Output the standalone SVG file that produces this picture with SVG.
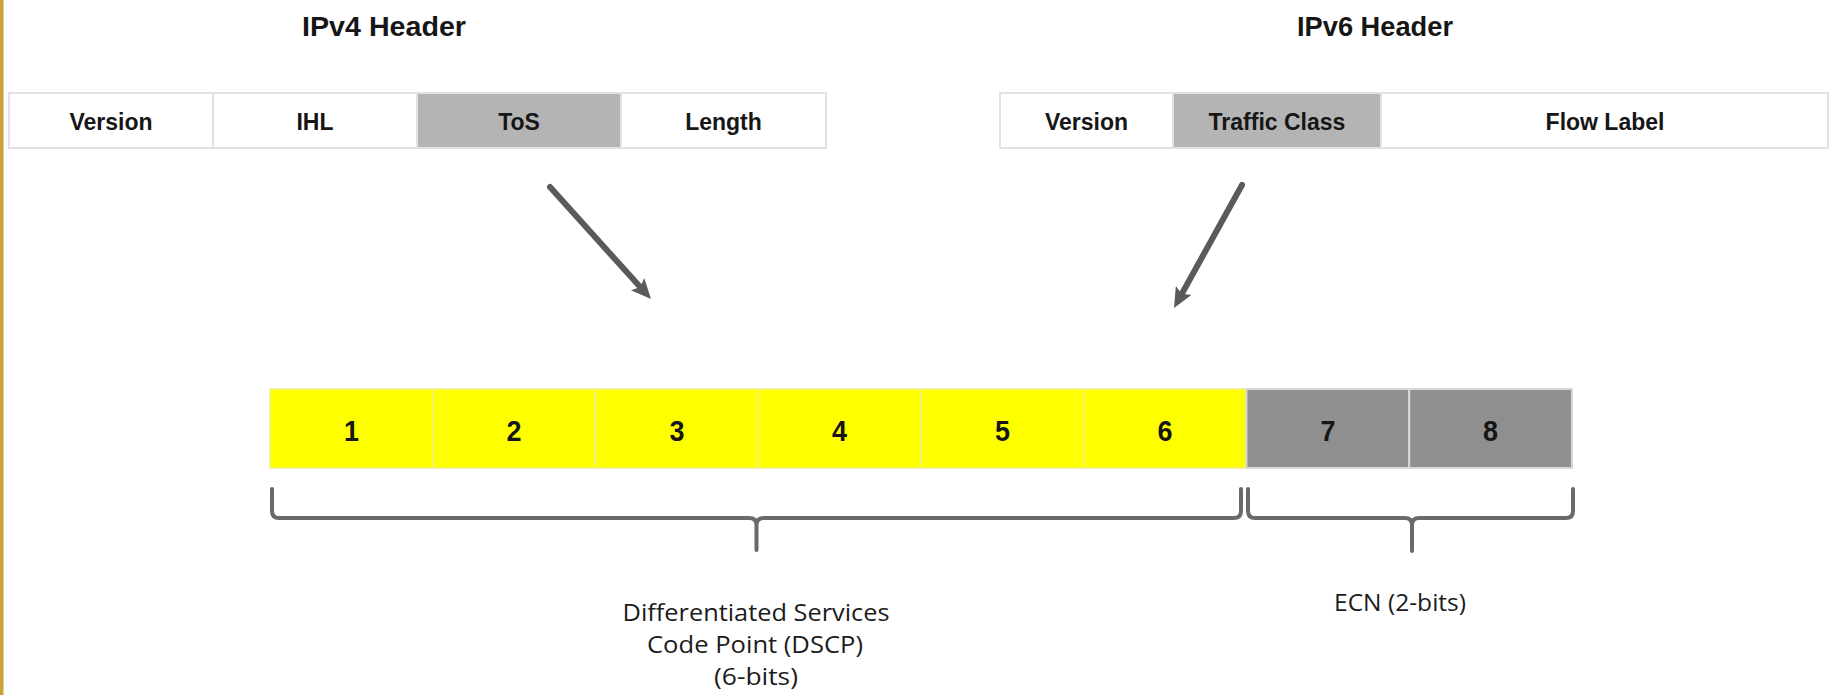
<svg xmlns="http://www.w3.org/2000/svg" width="1829" height="695" viewBox="0 0 1829 695">
  <style>
    .title { font-family: "Liberation Sans", Arial, sans-serif; font-weight: bold; font-size: 28px; fill: #161616; text-anchor: middle; }
    .field { font-family: "Liberation Sans", Arial, sans-serif; font-weight: bold; font-size: 23px; fill: #161616; text-anchor: middle; }
    .bit { font-family: "Liberation Sans", Arial, sans-serif; font-weight: bold; font-size: 30px; fill: #161616; text-anchor: middle; }
    .label { font-family: "Open Sans", "Liberation Sans", sans-serif; font-size: 24px; fill: #1c1c1c; text-anchor: middle; }
    .cell { fill: #ffffff; stroke: #e2e2e2; stroke-width: 2; }
    .cell-sel { fill: #b4b4b4; stroke: #e2e2e2; stroke-width: 2; }
    .dscp { fill: #ffff00; stroke: #f0f08a; stroke-width: 1.5; }
    .ecn { fill: #8f8f8f; stroke: #d8d8d8; stroke-width: 2; }
    .arrow { stroke: #5a5a5a; stroke-width: 6; stroke-linecap: round; fill: none; marker-end: url(#head); }
    .brace { stroke: #6a6a6a; stroke-width: 4; fill: none; stroke-linecap: round; stroke-linejoin: round; }
  </style>
  <defs>
    <marker id="head" markerUnits="userSpaceOnUse" viewBox="0 0 20 18" refX="6" refY="9" markerWidth="20" markerHeight="18" orient="auto">
      <path d="M0,0 L20,9 L0,18 L4,9 z" fill="#5a5a5a"/>
    </marker>
  </defs>

  <rect width="1829" height="695" fill="#ffffff"/>
  <!-- gold edge strip -->
  <rect x="0" y="0" width="3.5" height="695" fill="#c9a23c"/>

  <!-- IPv4 header -->
  <g id="ipv4-header">
    <text class="title" x="384" y="36" textLength="164" lengthAdjust="spacingAndGlyphs">IPv4 Header</text>
    <g id="ipv4-version">
      <rect class="cell" x="9" y="93" width="204" height="55"/>
      <text class="field" x="111" y="130">Version</text>
    </g>
    <g id="ipv4-ihl">
      <rect class="cell" x="213" y="93" width="204" height="55"/>
      <text class="field" x="315" y="130">IHL</text>
    </g>
    <g id="ipv4-tos">
      <rect class="cell-sel" x="417" y="93" width="204" height="55"/>
      <text class="field" x="519" y="130">ToS</text>
    </g>
    <g id="ipv4-length">
      <rect class="cell" x="621" y="93" width="205" height="55"/>
      <text class="field" x="723.5" y="130">Length</text>
    </g>
  </g>

  <!-- IPv6 header -->
  <g id="ipv6-header">
    <text class="title" x="1375" y="36" textLength="156" lengthAdjust="spacingAndGlyphs">IPv6 Header</text>
    <g id="ipv6-version">
      <rect class="cell" x="1000" y="93" width="173" height="55"/>
      <text class="field" x="1086.5" y="130">Version</text>
    </g>
    <g id="ipv6-traffic-class">
      <rect class="cell-sel" x="1173" y="93" width="208" height="55"/>
      <text class="field" x="1277" y="130">Traffic Class</text>
    </g>
    <g id="ipv6-flow-label">
      <rect class="cell" x="1381" y="93" width="447" height="55"/>
      <text class="field" x="1605" y="130">Flow Label</text>
    </g>
  </g>

  <!-- 8-bit DS field -->
  <g id="ds-field">
    <g id="bit-1"><rect class="dscp" x="270" y="389" width="162.75" height="79"/><text class="bit" x="351.4" y="441" textLength="15" lengthAdjust="spacingAndGlyphs">1</text></g>
    <g id="bit-2"><rect class="dscp" x="432.75" y="389" width="162.75" height="79"/><text class="bit" x="514.1" y="441" textLength="15" lengthAdjust="spacingAndGlyphs">2</text></g>
    <g id="bit-3"><rect class="dscp" x="595.5" y="389" width="162.75" height="79"/><text class="bit" x="676.9" y="441" textLength="15" lengthAdjust="spacingAndGlyphs">3</text></g>
    <g id="bit-4"><rect class="dscp" x="758.25" y="389" width="162.75" height="79"/><text class="bit" x="839.6" y="441" textLength="15" lengthAdjust="spacingAndGlyphs">4</text></g>
    <g id="bit-5"><rect class="dscp" x="921" y="389" width="162.75" height="79"/><text class="bit" x="1002.4" y="441" textLength="15" lengthAdjust="spacingAndGlyphs">5</text></g>
    <g id="bit-6"><rect class="dscp" x="1083.75" y="389" width="162.75" height="79"/><text class="bit" x="1165.1" y="441" textLength="15" lengthAdjust="spacingAndGlyphs">6</text></g>
    <g id="bit-7"><rect class="ecn" x="1246.5" y="389" width="162.75" height="79"/><text class="bit" x="1327.9" y="441" textLength="15" lengthAdjust="spacingAndGlyphs">7</text></g>
    <g id="bit-8"><rect class="ecn" x="1409.25" y="389" width="162.75" height="79"/><text class="bit" x="1490.6" y="441" textLength="15" lengthAdjust="spacingAndGlyphs">8</text></g>
  </g>

  <!-- labels under the braces -->
  <g id="dscp-label">
    <text class="label" x="756" y="621" textLength="267" lengthAdjust="spacingAndGlyphs">Differentiated Services</text>
    <text class="label" x="755" y="653" textLength="216" lengthAdjust="spacingAndGlyphs">Code Point (DSCP)</text>
    <text class="label" x="756" y="685" textLength="84" lengthAdjust="spacingAndGlyphs">(6-bits)</text>
  </g>
  <g id="ecn-label">
    <text class="label" x="1400" y="611" textLength="132" lengthAdjust="spacingAndGlyphs">ECN (2-bits)</text>
  </g>

  <!-- connectors: arrows and braces -->
  <g id="connectors">
    <line class="arrow" x1="550" y1="187" x2="641.6" y2="288.6"/>
    <line class="arrow" x1="1242" y1="185" x2="1180.8" y2="295.7"/>
    <path class="brace" d="M272,489 V511 Q272,518 279,518 H749 Q756.5,518 756.5,525 V550 M756.5,525 Q756.5,518 764,518 H1234 Q1241,518 1241,511 V489"/>
    <path class="brace" d="M1248,489 V511 Q1248,518 1255,518 H1405 Q1412,518 1412,525 V551 M1412,525 Q1412,518 1419,518 H1566 Q1573,518 1573,511 V489"/>
  </g>
</svg>
